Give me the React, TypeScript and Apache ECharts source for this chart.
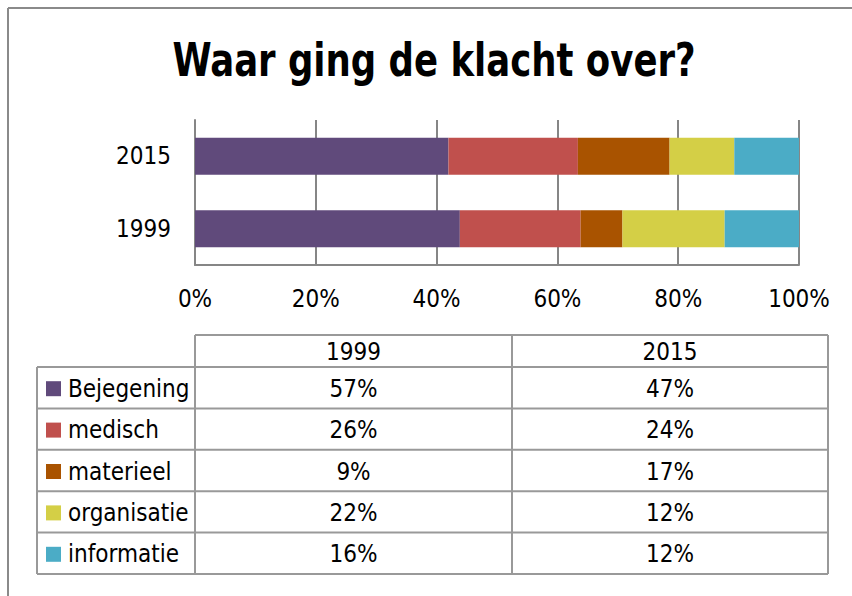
import React, { useEffect, useRef } from "react";
import * as echarts from "echarts";

const categories = ["1999", "2015"];
const seriesNames = ["Bejegening", "medisch", "materieel", "organisatie", "informatie"];
const values1999 = [57, 26, 9, 22, 16];
const values2015 = [47, 24, 17, 12, 12];
const colors = ["#604A7B", "#C0504D", "#A95300", "#D4CF46", "#4BACC6"];
const xTicks = [0, 20, 40, 60, 80, 100];
const titleText = "Waar ging de klacht over?";

const FONT = "'DejaVu Sans Condensed', 'Liberation Sans Narrow', sans-serif";

export default function App() {
  const ref = useRef<HTMLDivElement>(null);
  useEffect(() => {
    if (!ref.current) return;
    const chart = echarts.init(ref.current, null, { renderer: "svg" });
    const tot1999 = values1999.reduce((a, b) => a + b, 0);
    const tot2015 = values2015.reduce((a, b) => a + b, 0);
    const series = seriesNames.map((name, i) => ({
      name,
      type: "bar",
      stack: "total",
      barWidth: "51%",
      itemStyle: { color: colors[i] },
      data: [(values1999[i] / tot1999) * 100, (values2015[i] / tot2015) * 100],
    }));

    // table layout
    const tLeft = 37, c1 = 195, c2 = 512, tRight = 828;
    const hTop = 335, rTop = 367, rowH = 41.4;
    const lineStyle = { stroke: "#999999", lineWidth: 2 };
    const g: any[] = [];
    // chart border
    g.push({ type: "line", shape: { x1: 8, y1: 8, x2: 900, y2: 8 }, style: { stroke: "#8a8a8a", lineWidth: 2 } });
    g.push({ type: "line", shape: { x1: 8, y1: 8, x2: 8, y2: 700 }, style: { stroke: "#8a8a8a", lineWidth: 2 } });
    // title
    g.push({
      type: "text",
      x: 434,
      y: 60,
      scaleX: 0.84,
      originX: 0,
      style: {
        text: titleText,
        fontFamily: FONT,
        fontWeight: "bold",
        fontSize: 47,
        fill: "#000",
        textAlign: "center",
        textVerticalAlign: "middle",
      },
    });
    // header
    const nRows = seriesNames.length;
    const bottom = rTop + nRows * rowH;
    g.push({ type: "line", shape: { x1: c1, y1: hTop, x2: tRight, y2: hTop }, style: lineStyle });
    for (let r = 0; r <= nRows; r++) {
      const y = rTop + r * rowH;
      g.push({ type: "line", shape: { x1: tLeft, y1: y, x2: tRight, y2: y }, style: lineStyle });
    }
    g.push({ type: "line", shape: { x1: tLeft, y1: rTop, x2: tLeft, y2: bottom }, style: lineStyle });
    g.push({ type: "line", shape: { x1: c1, y1: hTop, x2: c1, y2: bottom }, style: lineStyle });
    g.push({ type: "line", shape: { x1: c2, y1: hTop, x2: c2, y2: bottom }, style: lineStyle });
    g.push({ type: "line", shape: { x1: tRight, y1: hTop, x2: tRight, y2: bottom }, style: lineStyle });
    const textStyle = { fontFamily: FONT, fontSize: 24, fill: "#000" };
    categories.forEach((c, j) => {
      const cx = j === 0 ? (c1 + c2) / 2 : (c2 + tRight) / 2;
      g.push({ type: "text", x: cx, y: (hTop + rTop) / 2 + 1, style: { ...textStyle, text: c, textAlign: "center", textVerticalAlign: "middle" } });
    });
    seriesNames.forEach((name, i) => {
      const cy = rTop + i * rowH + rowH / 2 + 1;
      g.push({ type: "rect", shape: { x: 46, y: cy - 7.5, width: 15, height: 15 }, style: { fill: colors[i] } });
      g.push({ type: "text", x: 68, y: cy, style: { ...textStyle, text: name, textAlign: "left", textVerticalAlign: "middle" } });
      g.push({ type: "text", x: (c1 + c2) / 2, y: cy, style: { ...textStyle, text: values1999[i] + "%", textAlign: "center", textVerticalAlign: "middle" } });
      g.push({ type: "text", x: (c2 + tRight) / 2, y: cy, style: { ...textStyle, text: values2015[i] + "%", textAlign: "center", textVerticalAlign: "middle" } });
    });

    chart.setOption({
      animation: false,
      backgroundColor: "#ffffff",
      grid: { left: 195, right: 852 - 799, top: 120, height: 145, containLabel: false },
      xAxis: {
        type: "value",
        min: 0,
        max: 100,
        interval: 20,
        axisLine: { show: true, lineStyle: { color: "#868686", width: 2 } },
        axisTick: { show: false },
        splitLine: { show: true, lineStyle: { color: "#868686", width: 2 } },
        axisLabel: {
          formatter: (v: number) => (xTicks.includes(v) ? v + "%" : ""),
          fontFamily: FONT,
          fontSize: 24,
          color: "#000",
          margin: 22,
        },
      },
      yAxis: {
        type: "category",
        data: categories,
        axisLine: { show: true, lineStyle: { color: "#868686", width: 2 } },
        axisTick: { show: false },
        axisLabel: { fontFamily: FONT, fontSize: 24, color: "#000", margin: 24 },
      },
      series,
      graphic: g,
    });
    return () => chart.dispose();
  }, []);
  return <div ref={ref} style={{ position: "fixed", left: 0, top: 0, width: 852, height: 596 }} />;
}
